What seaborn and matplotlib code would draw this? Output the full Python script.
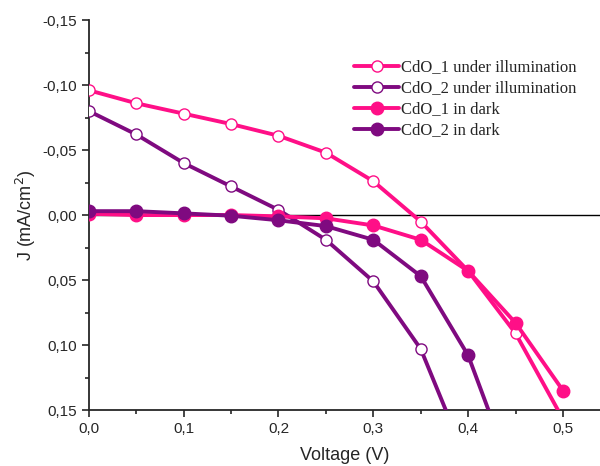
import numpy as np
import matplotlib
matplotlib.use("Agg")
import matplotlib.pyplot as plt
from matplotlib.ticker import FuncFormatter, MultipleLocator
import seaborn as sns

# voltage steps (V)
voltage = [0.0, 0.05, 0.10, 0.15, 0.20, 0.25, 0.30, 0.35, 0.40, 0.45, 0.50]

# current density J (mA/cm2)
cdo1_light = [-0.096, -0.086, -0.078, -0.070, -0.061, -0.048, -0.026, 0.005, 0.043, 0.091, 0.157]
cdo2_light = [-0.080, -0.062, -0.040, -0.022, -0.004, 0.019, 0.051, 0.103, 0.192]
cdo1_dark = [-0.001, 0.000, 0.000, 0.000, 0.001, 0.0025, 0.008, 0.019, 0.043, 0.083, 0.135]
cdo2_dark = [-0.003, -0.003, -0.0013, 0.0005, 0.004, 0.0085, 0.019, 0.047, 0.108, 0.206]

labels = ["CdO_1 under illumination", "CdO_2 under illumination",
          "CdO_1 in dark", "CdO_2 in dark"]

pink = "#ff0f87"
purple = "#7f0a80"

sns.set_style("ticks")
plt.rcParams["font.family"] = ["Liberation Sans", "DejaVu Sans"]

fig = plt.figure(figsize=(6.0, 4.66), dpi=100)
ax = fig.add_axes([0.148, 0.12, 0.852, 0.837])

ax.axhline(0, color="black", lw=1.0, zorder=1)

series = [
    (cdo1_light, pink, "white", labels[0]),
    (cdo2_light, purple, "white", labels[1]),
    (cdo1_dark, pink, pink, labels[2]),
    (cdo2_dark, purple, purple, labels[3]),
]
for vals, col, face, lab in series:
    sns.lineplot(x=voltage[:len(vals)], y=vals, ax=ax, color=col, lw=2.8,
                 marker="o", markersize=8 if face == "white" else 9,
                 markerfacecolor=face, markeredgecolor=col, markeredgewidth=1.0,
                 label=lab, zorder=3)

ax.set_xlim(0, 0.539)
ax.set_ylim(0.15, -0.15)

ax.xaxis.set_major_locator(MultipleLocator(0.1))
ax.xaxis.set_minor_locator(MultipleLocator(0.05))
ax.yaxis.set_major_locator(MultipleLocator(0.05))
ax.yaxis.set_minor_locator(MultipleLocator(0.025))
ax.xaxis.set_major_formatter(FuncFormatter(lambda v, p: f"{v:.1f}".replace(".", ",")))
ax.yaxis.set_major_formatter(FuncFormatter(lambda v, p: f"{v:.2f}".replace(".", ",").replace("-0,00", "0,00")))

ax.tick_params(which="major", direction="out", length=5, width=1.2, labelsize=11)
ax.tick_params(which="minor", direction="out", length=3, width=1.2)

for s in ["top", "right"]:
    ax.spines[s].set_visible(False)
for s in ["left", "bottom"]:
    ax.spines[s].set_linewidth(1.3)

ax.set_xlabel("Voltage (V)", fontsize=13, labelpad=8)
ax.set_ylabel("J (mA/cm$^2$)", fontsize=13, labelpad=3)

leg = ax.legend(loc="upper left", bbox_to_anchor=(0.49, 0.937), frameon=False,
                prop={"family": "Liberation Serif", "size": 12},
                handlelength=2.7, handletextpad=0.1, labelspacing=0.3)

fig.savefig("out.png", dpi=100)
